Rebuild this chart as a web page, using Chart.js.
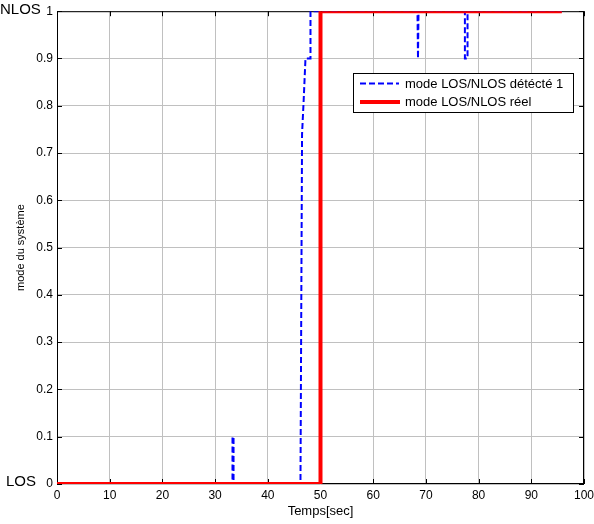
<!DOCTYPE html>
<html>
<head>
<meta charset="utf-8">
<script src="https://cdn.jsdelivr.net/npm/chart.js@4/dist/chart.umd.min.js"></script>
<style>
  html, body { margin: 0; padding: 0; background: #fff; }
  canvas { display: block; }
</style>
</head>
<body>
<canvas id="modeChart" width="594" height="524"></canvas>
<script>
// x / y ticks
const xTicks = [0, 10, 20, 30, 40, 50, 60, 70, 80, 90, 100];
const yTicks = [0, 0.1, 0.2, 0.3, 0.4, 0.5, 0.6, 0.7, 0.8, 0.9, 1];
const yTickLabels = ["0", "0.1", "0.2", "0.3", "0.4", "0.5", "0.6", "0.7", "0.8", "0.9", "1"];

// detected mode (blue dashed)
const detTime = [0, 33.3, 33.3, 33.5, 33.5, 46.2, 46.5, 46.8, 47.15, 48.1, 48.1, 68.4, 68.5, 68.6, 77.4, 77.4, 77.9, 77.9, 95.8];
const detMode = [0, 0, 0.1, 0.1, 0, 0, 0.74, 0.81, 0.9, 0.9, 1, 1, 0.9, 1, 1, 0.9, 0.9, 1, 1];

// real mode (red)
const realTime = [0, 50, 50, 95.8];
const realMode = [0, 0, 1, 1];

const legendLabels = ["mode LOS/NLOS détécté 1", "mode LOS/NLOS réel"];
const FONT = "'Liberation Sans', Arial, sans-serif";

function toPoints(xs, ys) {
  return xs.map((x, i) => ({ x: x, y: ys[i] }));
}

// box, inward ticks, LOS/NLOS labels and legend
const matlabPlugin = {
  id: "matlabStyle",
  beforeDatasetsDraw(chart) {
    const { ctx, chartArea: a, scales } = chart;
    ctx.save();
    ctx.strokeStyle = "#000";
    ctx.lineWidth = 1;
    ctx.strokeRect(a.left + 0.5, a.top + 0.5, a.right - a.left - 1, a.bottom - a.top - 1);
    ctx.beginPath();
    xTicks.forEach((v) => {
      const px = Math.round(scales.x.getPixelForValue(v)) + 0.5;
      ctx.moveTo(px, a.bottom); ctx.lineTo(px, a.bottom - 5);
      ctx.moveTo(px, a.top); ctx.lineTo(px, a.top + 5);
    });
    yTicks.forEach((v) => {
      const py = Math.round(scales.y.getPixelForValue(v)) + 0.5;
      ctx.moveTo(a.left, py); ctx.lineTo(a.left + 5, py);
      ctx.moveTo(a.right, py); ctx.lineTo(a.right - 5, py);
    });
    ctx.stroke();
    ctx.restore();
  },
  afterDraw(chart) {
    const { ctx, scales } = chart;
    ctx.save();
    ctx.fillStyle = "#000";
    ctx.font = "15px " + FONT;
    ctx.textAlign = "left";
    ctx.textBaseline = "middle";
    ctx.fillText("NLOS", 0, scales.y.getPixelForValue(1) - 1);
    ctx.fillText("LOS", 6, scales.y.getPixelForValue(0) - 2);

    // legend
    const lx = 353, ly = 73, lw = 220, lh = 39;
    ctx.fillStyle = "#fff";
    ctx.fillRect(lx, ly, lw, lh);
    ctx.strokeStyle = "#000";
    ctx.lineWidth = 1;
    ctx.strokeRect(lx + 0.5, ly + 0.5, lw, lh);

    ctx.lineWidth = 2;
    ctx.strokeStyle = "#0000ff";
    ctx.setLineDash([6, 3]);
    ctx.beginPath();
    ctx.moveTo(360, 83.5); ctx.lineTo(399, 83.5);
    ctx.stroke();
    ctx.setLineDash([]);
    ctx.lineWidth = 4;
    ctx.strokeStyle = "#ff0000";
    ctx.beginPath();
    ctx.moveTo(360, 102); ctx.lineTo(400, 102);
    ctx.stroke();

    ctx.fillStyle = "#000";
    ctx.font = "13px " + FONT;
    ctx.fillText(legendLabels[0], 405, 84);
    ctx.fillText(legendLabels[1], 405, 102);
    ctx.restore();
  }
};

const ctx = document.getElementById("modeChart").getContext("2d");
new Chart(ctx, {
  type: "line",
  data: {
    datasets: [
      {
        label: legendLabels[1],
        data: toPoints(realTime, realMode),
        borderColor: "#ff0000",
        borderWidth: 4,
        pointRadius: 0,
        tension: 0,
        order: 0
      },
      {
        label: legendLabels[0],
        data: toPoints(detTime, detMode),
        borderColor: "#0000ff",
        borderWidth: 2,
        borderDash: [6, 3],
        pointRadius: 0,
        tension: 0,
        order: 1
      }
    ]
  },
  options: {
    responsive: false,
    animation: false,
    layout: { padding: { top: 10, right: 10, left: 0, bottom: 0 } },
    plugins: {
      legend: { display: false },
      tooltip: { enabled: false }
    },
    scales: {
      x: {
        type: "linear",
        min: 0,
        max: 100,
        afterBuildTicks: (scale) => { scale.ticks = xTicks.map((v) => ({ value: v })); },
        afterFit: (scale) => { scale.height = 40; scale.paddingLeft = 0; scale.paddingRight = 0; },
        grid: { color: "#c0c0c0", drawTicks: false },
        border: { display: false },
        ticks: {
          autoSkip: false,
          maxRotation: 0,
          padding: 4,
          color: "#000",
          font: { family: FONT, size: 12 }
        },
        title: {
          display: true,
          text: "Temps[sec]",
          color: "#000",
          font: { family: FONT, size: 13 },
          padding: { top: 0, bottom: 5 }
        }
      },
      y: {
        type: "linear",
        min: 0,
        max: 1,
        afterBuildTicks: (scale) => { scale.ticks = yTicks.map((v) => ({ value: v })); },
        afterFit: (scale) => { scale.width = 57; },
        grid: { color: "#c0c0c0", drawTicks: false },
        border: { display: false },
        ticks: {
          padding: 4,
          color: "#000",
          font: { family: FONT, size: 12 },
          callback: (value) => yTickLabels[yTicks.indexOf(value)] ?? ""
        },
        title: {
          display: true,
          text: "mode du système",
          color: "#000",
          font: { family: FONT, size: 11 },
          padding: { top: 14, bottom: 0 }
        }
      }
    }
  },
  plugins: [matlabPlugin]
});
</script>
</body>
</html>
